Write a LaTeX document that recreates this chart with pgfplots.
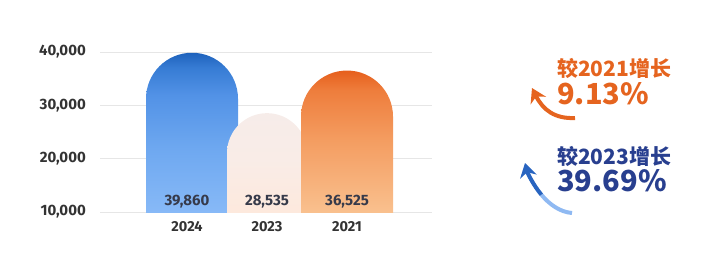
\documentclass[border=0pt]{standalone}
\usepackage{pgfplots}
\pgfplotsset{compat=1.18}
\usepackage{fontspec}
\setmainfont{Fira Sans}
\newfontfamily\cjk{Noto Sans CJK SC}
\usetikzlibrary{arrows.meta}
\definecolor{tickc}{HTML}{333333}
\definecolor{valc}{HTML}{363A4A}
\definecolor{gridc}{HTML}{E6E6E6}
\definecolor{orangeTxt}{RGB}{229,100,31}
\definecolor{navyTxt}{RGB}{40,63,143}
\definecolor{arrLight}{RGB}{143,185,242}
\definecolor{arrDark}{RGB}{40,100,192}
\pgfdeclareverticalshading{blueshade}{100bp}{%
  color(0bp)=(rgb,255:red,135;green,185;blue,247);
  color(37.5bp)=(rgb,255:red,135;green,185;blue,247);
  color(52.5bp)=(rgb,255:red,110;green,168;blue,240);
  color(65bp)=(rgb,255:red,82;green,146;blue,230);
  color(71.5bp)=(rgb,255:red,55;green,124;blue,212);
  color(75bp)=(rgb,255:red,30;green,98;blue,188);
  color(100bp)=(rgb,255:red,30;green,98;blue,188)}
\pgfdeclareverticalshading{pinkshade}{100bp}{%
  color(0bp)=(rgb,255:red,253;green,233;blue,221);
  color(42.5bp)=(rgb,255:red,253;green,233;blue,221);
  color(60bp)=(rgb,255:red,249;green,236;blue,231);
  color(75bp)=(rgb,255:red,246;green,236;blue,233);
  color(100bp)=(rgb,255:red,246;green,236;blue,233)}
\pgfdeclareverticalshading{orangeshade}{100bp}{%
  color(0bp)=(rgb,255:red,249;green,192;blue,142);
  color(38.7bp)=(rgb,255:red,249;green,192;blue,142);
  color(57.5bp)=(rgb,255:red,244;green,156;blue,96);
  color(70bp)=(rgb,255:red,238;green,125;blue,60);
  color(75bp)=(rgb,255:red,230;green,95;blue,28);
  color(100bp)=(rgb,255:red,230;green,95;blue,28)}
\begin{document}
\begin{tikzpicture}[x=1pt,y=1pt]
\path[use as bounding box] (0,0) rectangle (720,258);
\begin{axis}[
  at={(100pt,-7.333pt)}, anchor=south west,
  scale only axis, width=332pt, height=218.667pt,
  xmin=-1.0875, xmax=3.0625, ymin=0, ymax=41000,
  axis line style={draw=none},
  major tick length=0pt,
  ytick={10000,20000,30000,40000},
  ymajorgrids, grid style={color=gridc, line width=0.8pt},
  scaled y ticks=false,
  /pgf/number format/assume math mode=true,
  /pgf/number format/1000 sep={,},
  yticklabel style={font=\fontsize{15}{15}\selectfont\bfseries, text=tickc, anchor=east, inner sep=0pt, xshift=-14pt},
  xtick={0,1,2}, xticklabels={2024,2023,2021},
  xticklabel style={font=\fontsize{14.5}{14.5}\selectfont\bfseries, text=tickc, anchor=north, inner sep=0pt, yshift=43.63pt},
  clip=true,
]
\clip (axis cs:-1.0875,10000) rectangle (axis cs:3.0625,41000);
\addplot[ybar, bar width=92pt, bar shift=5pt, draw=none, rounded corners=46pt, shade, shading=blueshade] coordinates {(0,39860)};
\addplot[ybar, bar width=80pt, bar shift=0pt, draw=none, rounded corners=40pt, shade, shading=pinkshade] coordinates {(1,28535)};
\addplot[ybar, bar width=92pt, bar shift=0pt, draw=none, rounded corners=46pt, shade, shading=orangeshade] coordinates {(2,36525)};
\addplot[draw=none, mark=none, nodes near coords, nodes near coords align={center}, point meta=explicit symbolic,
  every node near coord/.append style={anchor=center, yshift=10.3pt, font=\fontsize{15}{15}\selectfont\bfseries, text=valc}]
  coordinates {(0,10000) [39,860] (1,10000) [28,535] (2,10000) [36,525]};
\end{axis}
% annotations
\node[anchor=base west, inner sep=0pt, text=orangeTxt, font=\cjk\bfseries\fontsize{21}{21}\selectfont] at (557,182) {较2021增长};
\node[anchor=base west, inner sep=0pt, text=orangeTxt, font=\cjk\bfseries\fontsize{29}{29}\selectfont] at (557,154) {9.13\%};
\node[anchor=base west, inner sep=0pt, text=navyTxt, font=\cjk\bfseries\fontsize{21}{21}\selectfont] at (557,94) {较2023增长};
\node[anchor=base west, inner sep=0pt, text=navyTxt, font=\cjk\bfseries\fontsize{29}{29}\selectfont] at (557,66.3) {39.69\%};
% arrows
\draw[line width=4pt, orangeTxt, -{Stealth[length=14pt,width=17pt]}] (575,140) .. controls (555,139) and (543,148) .. (532,170);
\draw[line width=4pt, arrLight] (572,45) .. controls (560,46) and (549.5,53.5) .. (541.4,63.25);
\draw[line width=4pt, arrDark, -{Stealth[length=14pt,width=17pt]}] (541.4,63.25) .. controls (533.25,73) and (527.5,85) .. (525,95);
\end{tikzpicture}
\end{document}
